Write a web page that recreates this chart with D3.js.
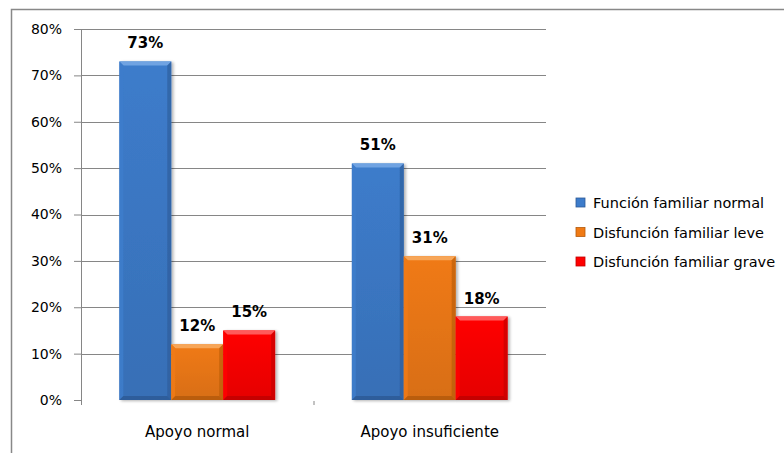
<!DOCTYPE html>
<html>
<head>
<meta charset="utf-8">
<script src="https://cdn.jsdelivr.net/npm/d3@7"></script>
<style>
  body { margin: 0; background: #fff; }
  svg text { font-family: "DejaVu Sans", Verdana, sans-serif; fill: #000; }
</style>
</head>
<body>
<svg class="chart" width="784" height="453"></svg>
<script>
/**********************
 Data
**********************/
var categories = ["Apoyo normal", "Apoyo insuficiente"];
var seriesNames = ["Función familiar normal", "Disfunción familiar leve", "Disfunción familiar grave"];
var normalValues = [73, 51];
var leveValues = [12, 31];
var graveValues = [15, 18];
var yTicks = [0, 10, 20, 30, 40, 50, 60, 70, 80];

var seriesValues = [normalValues, leveValues, graveValues];
var colors = [
  {body: "#3d7ccb", light: "#6fa3e2", dark: "#2d5a96"},
  {body: "#f07a14", light: "#f7a658", dark: "#b45a0c"},
  {body: "#ff0000", light: "#ff5a5a", dark: "#c00000"}
];

/**********************
 Layout
**********************/
var svg = d3.select('svg.chart');
var padding = {t: 29, l: 81, r: 238, b: 53};
var chartWidth = 784 - padding.l - padding.r;   // 465
var chartHeight = 453 - padding.t - padding.b;  // 371

// outer border (only left and top visible)
svg.append('rect')
  .attr('x', 11.5).attr('y', 9.5)
  .attr('width', 800).attr('height', 500)
  .attr('fill', 'none')
  .attr('stroke', '#888').attr('stroke-width', 1.5);

var defs = svg.append('defs');
var filt = defs.append('filter').attr('id', 'shadow')
  .attr('x', '-20%').attr('y', '-10%').attr('width', '140%').attr('height', '120%');
filt.append('feGaussianBlur').attr('in', 'SourceAlpha').attr('stdDeviation', 1.5);
filt.append('feOffset').attr('dx', 2).attr('dy', 1).attr('result', 'ob');
filt.append('feComponentTransfer').append('feFuncA').attr('type', 'linear').attr('slope', 0.3);
var merge = filt.append('feMerge');
merge.append('feMergeNode');
merge.append('feMergeNode').attr('in', 'SourceGraphic');

colors.forEach(function(c, i) {
  var g = defs.append('linearGradient').attr('id', 'grad' + i)
    .attr('x1', 0).attr('y1', 0).attr('x2', 0).attr('y2', 1);
  g.append('stop').attr('offset', '0%').attr('stop-color', c.body);
  g.append('stop').attr('offset', '100%').attr('stop-color', d3.color(c.body).darker(0.3));
});

var chartG = svg.append('g')
  .attr('transform', 'translate(' + [padding.l, padding.t] + ')');

var yScale = d3.scaleLinear().domain([0, 80]).range([chartHeight, 0]);
var xScale = d3.scaleBand().domain(categories).range([0, chartWidth])
  .paddingInner(0.33).paddingOuter(0.165);
var xInner = d3.scaleBand().domain(d3.range(seriesNames.length)).range([0, xScale.bandwidth()]);

// gridlines
chartG.append('g').selectAll('line.grid')
  .data(yTicks.filter(function(d) { return d > 0; }))
  .enter().append('line')
  .attr('x1', 0).attr('x2', chartWidth)
  .attr('y1', function(d) { return Math.round(yScale(d)) + 0.5; })
  .attr('y2', function(d) { return Math.round(yScale(d)) + 0.5; })
  .attr('stroke', '#868686');

// y axis
var yAxisG = chartG.append('g').attr('class', 'y axis')
  .call(d3.axisLeft(yScale).tickValues(yTicks).tickSize(7).tickPadding(12)
    .tickFormat(function(d) { return d + '%'; }));
yAxisG.select('.domain').attr('stroke', '#868686').attr('d', 'M0.5,0V' + (chartHeight + 5));
yAxisG.selectAll('.tick line').attr('stroke', '#868686');
yAxisG.selectAll('.tick text')
  .style('font-size', '14px').style('font-family', '"DejaVu Sans", sans-serif').attr('fill', '#000');

// category separator tick
chartG.append('line')
  .attr('x1', chartWidth / 2 + 0.5).attr('x2', chartWidth / 2 + 0.5)
  .attr('y1', chartHeight + 1).attr('y2', chartHeight + 5)
  .attr('stroke', '#868686');

// category labels
chartG.selectAll('.cat-label')
  .data(categories).enter().append('text')
  .attr('class', 'cat-label')
  .attr('x', function(d) { return xScale(d) + xScale.bandwidth() / 2; })
  .attr('y', chartHeight + 37)
  .attr('text-anchor', 'middle')
  .style('font-size', '15px')
  .attr('fill', '#222')
  .text(function(d) { return d; });

// bars
var flat = [];
categories.forEach(function(cat, ci) {
  seriesValues.forEach(function(vals, si) {
    flat.push({cat: cat, s: si, v: vals[ci]});
  });
});

var barG = chartG.selectAll('.bar')
  .data(flat).enter().append('g')
  .attr('class', 'bar')
  .attr('filter', 'url(#shadow)');

var bev = 4;
function bx(d) { return xScale(d.cat) + xInner(d.s); }
function bw() { return xInner.bandwidth(); }
function by(d) { return yScale(d.v); }
function bh(d) { return chartHeight - yScale(d.v); }

barG.append('rect')
  .attr('x', bx).attr('y', by).attr('width', bw).attr('height', bh)
  .attr('fill', function(d) { return 'url(#grad' + d.s + ')'; });
// top bevel
barG.append('polygon')
  .attr('points', function(d) {
    var x = bx(d), y = by(d), w = bw();
    return [[x, y], [x + w, y], [x + w - bev, y + bev], [x + bev, y + bev]].join(' ');
  })
  .attr('fill', function(d) { return colors[d.s].light; });
// left bevel
barG.append('polygon')
  .attr('points', function(d) {
    var x = bx(d), y = by(d), h = bh(d);
    return [[x, y], [x + bev, y + bev], [x + bev, y + h - bev], [x, y + h]].join(' ');
  })
  .attr('fill', function(d) { return colors[d.s].body; })
  .attr('opacity', 0.85);
// right bevel
barG.append('polygon')
  .attr('points', function(d) {
    var x = bx(d) + bw(), y = by(d), h = bh(d);
    return [[x, y], [x - bev, y + bev], [x - bev, y + h - bev], [x, y + h]].join(' ');
  })
  .attr('fill', function(d) { return colors[d.s].dark; })
  .attr('opacity', 0.6);
// bottom bevel
barG.append('polygon')
  .attr('points', function(d) {
    var x = bx(d), y = by(d) + bh(d), w = bw();
    return [[x, y], [x + w, y], [x + w - bev, y - bev], [x + bev, y - bev]].join(' ');
  })
  .attr('fill', function(d) { return colors[d.s].dark; })
  .attr('opacity', 0.85);

// value labels
chartG.selectAll('.val-label')
  .data(flat).enter().append('text')
  .attr('class', 'val-label')
  .attr('x', function(d) { return bx(d) + bw() / 2; })
  .attr('y', function(d) { return by(d) - 13; })
  .attr('text-anchor', 'middle')
  .style('font-size', '15px').style('font-weight', 'bold')
  .text(function(d) { return d.v + '%'; });

// legend
var legend = svg.append('g').attr('transform', 'translate(576,203)');
var item = legend.selectAll('.legend-item')
  .data(seriesNames).enter().append('g')
  .attr('class', 'legend-item')
  .attr('transform', function(d, i) { return 'translate(0,' + (i * 29.5) + ')'; });
item.append('rect')
  .attr('x', 0).attr('y', -5).attr('width', 9).attr('height', 9)
  .attr('fill', function(d, i) { return colors[i].body; })
  .attr('stroke', function(d, i) { return colors[i].dark; }).attr('stroke-width', 0.8);
item.append('text')
  .attr('x', 17).attr('y', 5)
  .style('font-size', '14.5px')
  .attr('fill', '#222')
  .text(function(d) { return d; });
</script>
</body>
</html>
